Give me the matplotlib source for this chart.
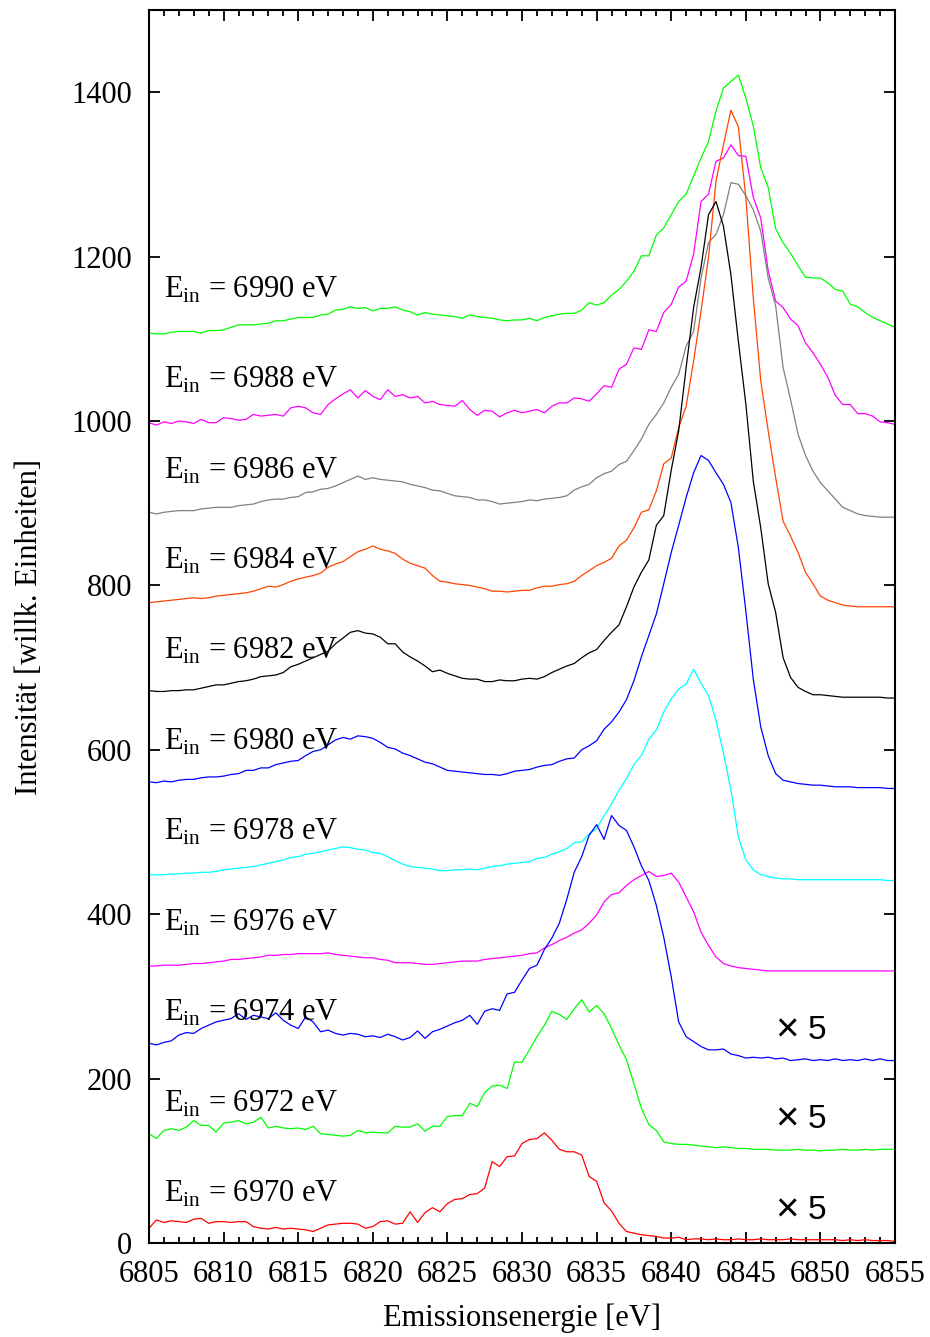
import matplotlib
matplotlib.use('Agg')
import matplotlib.pyplot as plt
import numpy as np
from matplotlib.ticker import MultipleLocator

# Emission energy grid [eV], 0.5 eV steps
energy = np.arange(6805, 6855.5, 0.5)

# Incident energies (top to bottom)
e_in = [6990, 6988, 6986, 6984, 6982, 6980, 6978, 6976, 6974, 6972, 6970]
colors = ['#00ff00', '#ff00ff', '#808080', '#ff4500', '#000000', '#0000ff',
          '#00ffff', '#ff00ff', '#0000ff', '#00ff00', '#ff0000']

# Intensities (arbitrary units, vertical offsets included as plotted)
i_6990 = [1107, 1106, 1106, 1108, 1109, 1109, 1109, 1107, 1110, 1110,
          1111, 1114, 1117, 1117, 1117, 1118, 1119, 1122, 1122, 1124,
          1126, 1126, 1126, 1129, 1130, 1135, 1136, 1139, 1137, 1138,
          1134, 1137, 1137, 1139, 1135, 1133, 1129, 1132, 1130, 1129,
          1128, 1127, 1125, 1129, 1127, 1126, 1125, 1123, 1122, 1123,
          1123, 1125, 1122, 1126, 1128, 1130, 1131, 1131, 1135, 1144,
          1141, 1144, 1153, 1160, 1170, 1182, 1201, 1201, 1226, 1235,
          1251, 1267, 1276, 1298, 1320, 1340, 1377, 1405, 1413, 1421,
          1393, 1359, 1308, 1284, 1234, 1217, 1204, 1189, 1175, 1174,
          1174, 1168, 1160, 1158, 1142, 1139, 1132, 1126, 1122, 1118,
          1114]
i_6988 = [998, 995, 999, 997, 1000, 999, 997, 1002, 998, 998,
          1004, 1003, 1001, 1002, 1008, 1006, 1007, 1008, 1006, 1016,
          1018, 1016, 1010, 1008, 1020, 1027, 1033, 1038, 1028, 1037,
          1030, 1026, 1038, 1030, 1032, 1028, 1030, 1022, 1024, 1020,
          1019, 1018, 1025, 1014, 1007, 1013, 1012, 1005, 1010, 1013,
          1010, 1012, 1014, 1010, 1018, 1022, 1022, 1028, 1027, 1024,
          1033, 1043, 1041, 1063, 1069, 1089, 1087, 1111, 1109, 1132,
          1142, 1163, 1170, 1203, 1267, 1276, 1316, 1320, 1336, 1323,
          1322, 1272, 1247, 1183, 1146, 1138, 1124, 1116, 1095, 1083,
          1069, 1053, 1031, 1020, 1020, 1009, 1009, 1006, 999, 998,
          996]
i_6986 = [889, 887, 889, 890, 891, 891, 891, 893, 894, 895,
          895, 895, 897, 898, 899, 902, 904, 905, 905, 907,
          908, 913, 914, 917, 918, 921, 925, 929, 933, 929,
          931, 929, 928, 927, 926, 923, 921, 919, 916, 915,
          912, 909, 908, 907, 904, 904, 902, 899, 900, 901,
          902, 904, 903, 905, 906, 907, 909, 916, 920, 923,
          931, 936, 939, 947, 951, 964, 978, 996, 1008, 1022,
          1041, 1057, 1091, 1109, 1174, 1217, 1227, 1251, 1290, 1288,
          1274, 1257, 1231, 1174, 1140, 1065, 1026, 984, 958, 939,
          925, 915, 905, 895, 891, 887, 885, 884, 883, 883,
          883]
i_6984 = [779, 780, 781, 782, 783, 784, 785, 784, 785, 787,
          788, 789, 790, 791, 793, 796, 799, 798, 801, 805,
          808, 810, 812, 815, 822, 826, 829, 835, 841, 844,
          848, 844, 842, 839, 832, 827, 824, 821, 812, 805,
          804, 802, 801, 800, 798, 796, 793, 793, 792, 793,
          794, 794, 797, 799, 799, 801, 802, 805, 812, 818,
          824, 828, 833, 848, 855, 870, 889, 892, 915, 948,
          955, 992, 1018, 1073, 1134, 1199, 1292, 1336, 1378, 1358,
          1272, 1150, 1049, 988, 931, 878, 860, 840, 816, 802,
          787, 782, 779, 776, 775, 774, 774, 774, 774, 774,
          774]
i_6982 = [672, 671, 671, 672, 672, 673, 673, 675, 677, 679,
          679, 681, 683, 684, 686, 689, 690, 691, 694, 701,
          704, 708, 712, 716, 720, 729, 736, 743, 745, 742,
          741, 737, 729, 729, 719, 713, 708, 702, 695, 697,
          693, 690, 687, 686, 686, 683, 683, 685, 684, 684,
          686, 687, 686, 689, 694, 698, 702, 705, 712, 718,
          722, 733, 743, 752, 774, 798, 816, 831, 873, 885,
          940, 988, 1065, 1138, 1187, 1251, 1267, 1237, 1178, 1097,
          1021, 927, 870, 802, 767, 712, 688, 676, 671, 667,
          667, 666, 665, 664, 664, 664, 664, 664, 664, 663,
          663]
i_6980 = [561, 560, 562, 561, 563, 564, 564, 566, 567, 567,
          568, 570, 571, 575, 575, 578, 578, 582, 584, 586,
          587, 593, 598, 600, 606, 612, 615, 613, 617, 616,
          614, 609, 603, 601, 596, 593, 589, 585, 583, 579,
          575, 574, 573, 572, 571, 570, 570, 569, 571, 574,
          575, 576, 579, 581, 582, 586, 589, 590, 600, 605,
          611, 625, 634, 646, 661, 684, 713, 739, 765, 802,
          840, 873, 907, 937, 958, 952, 937, 923, 901, 846,
          769, 686, 628, 593, 571, 563, 561, 559, 558, 557,
          557, 556, 555, 555, 555, 554, 554, 554, 554, 553,
          553]
i_6978 = [448, 448, 448, 449, 449, 450, 450, 451, 451, 452,
          454, 455, 456, 457, 458, 460, 462, 464, 466, 469,
          470, 473, 474, 476, 478, 480, 482, 481, 479, 478,
          475, 474, 470, 465, 461, 458, 457, 456, 455, 453,
          453, 454, 454, 455, 454, 456, 458, 459, 461, 462,
          463, 464, 468, 469, 473, 476, 480, 487, 488, 498,
          504, 520, 534, 551, 565, 582, 593, 613, 624, 646,
          662, 674, 680, 698, 681, 666, 636, 596, 551, 494,
          466, 454, 448, 446, 444, 443, 443, 442, 442, 442,
          442, 442, 442, 442, 442, 442, 442, 442, 442, 441,
          441]
i_6976 = [337, 337, 338, 338, 338, 339, 340, 340, 341, 342,
          343, 345, 345, 346, 347, 348, 350, 350, 351, 351,
          352, 352, 352, 352, 353, 351, 350, 349, 348, 347,
          347, 345, 344, 341, 341, 341, 340, 339, 339, 340,
          341, 342, 343, 343, 343, 345, 346, 347, 348, 349,
          350, 352, 353, 359, 363, 368, 372, 377, 381, 389,
          399, 415, 424, 426, 435, 442, 447, 452, 446, 447,
          450, 439, 421, 403, 378, 362, 348, 340, 337, 335,
          334, 333, 332, 331, 331, 331, 331, 331, 331, 331,
          331, 331, 331, 331, 331, 331, 331, 331, 331, 331,
          331]
i_6974 = [243, 241, 244, 246, 253, 256, 255, 261, 265, 269,
          271, 273, 279, 272, 277, 275, 273, 280, 271, 265,
          261, 275, 269, 257, 259, 255, 253, 255, 254, 251,
          252, 250, 254, 251, 247, 250, 258, 249, 257, 260,
          264, 268, 271, 277, 266, 282, 285, 283, 303, 305,
          320, 334, 338, 357, 371, 389, 418, 451, 470, 496,
          509, 491, 520, 508, 502, 482, 459, 441, 411, 372,
          324, 269, 251, 245, 239, 235, 235, 236, 230, 228,
          225, 226, 225, 226, 224, 225, 222, 223, 224, 222,
          223, 222, 224, 222, 223, 222, 224, 222, 224, 222,
          222]
i_6972 = [133, 127, 137, 139, 137, 141, 149, 143, 143, 135,
          146, 147, 149, 145, 147, 153, 140, 142, 140, 139,
          140, 138, 142, 133, 132, 131, 130, 131, 137, 134,
          135, 134, 134, 142, 141, 141, 145, 136, 142, 142,
          154, 155, 155, 170, 166, 183, 191, 192, 188, 220,
          220, 235, 251, 265, 282, 278, 272, 285, 296, 281,
          289, 279, 261, 241, 223, 194, 164, 144, 137, 123,
          121, 120, 120, 119, 118, 117, 116, 117, 116, 115,
          115, 114, 114, 114, 113, 113, 113, 114, 113, 113,
          112, 113, 113, 114, 113, 113, 114, 113, 114, 114,
          114]
i_6970 = [18, 28, 25, 27, 26, 25, 29, 30, 24, 26,
          26, 25, 26, 26, 20, 18, 17, 19, 17, 18,
          17, 16, 14, 18, 22, 23, 24, 24, 23, 18,
          20, 26, 27, 23, 24, 38, 25, 37, 43, 38,
          48, 53, 54, 59, 60, 67, 99, 93, 105, 106,
          121, 126, 127, 134, 125, 114, 111, 111, 107, 81,
          75, 49, 39, 24, 14, 12, 10, 9, 8, 6,
          6, 7, 4, 5, 5, 4, 5, 4, 4, 5,
          4, 4, 5, 4, 4, 4, 5, 4, 4, 4,
          4, 4, 4, 3, 4, 3, 4, 3, 3, 3,
          2]
curves = [i_6990, i_6988, i_6986, i_6984, i_6982, i_6980,
          i_6978, i_6976, i_6974, i_6972, i_6970]

# Label baselines (data units) and the "x 5" markers
label_y = [1150, 1040, 930, 820, 710, 600, 490, 380, 270, 160, 50]
scaled_y = [259, 150, 40]

plt.rcParams['font.family'] = ['Liberation Serif', 'DejaVu Serif']
plt.rcParams['mathtext.fontset'] = 'custom'
plt.rcParams['mathtext.rm'] = 'Liberation Serif'

fig = plt.figure(figsize=(9.3, 13.37), dpi=100)
ax = fig.add_axes([0.1602, 0.0703, 0.8022, 0.9222])

for y, c in zip(curves, colors):
    ax.plot(energy, y, color=c, linewidth=0.9)

for e, ly in zip(e_in, label_y):
    ax.text(6806, ly, r'E$_{\mathrm{in}}$ = %d eV' % e, fontsize=22,
            va='baseline', ha='left')

# "x 5" scale markers: larger multiplication sign, then the digit
for sy in scaled_y:
    ax.text(6847.75, sy, '\u00d7', fontsize=29, family='Liberation Sans',
            va='center', ha='center')
    ax.text(6849.8, sy, '5', fontsize=24, family='Liberation Sans',
            va='center', ha='center')

ax.set_xlim(6805, 6855)
ax.set_ylim(0, 1500)
ax.xaxis.set_major_locator(MultipleLocator(5))
ax.xaxis.set_minor_locator(MultipleLocator(1))
ax.yaxis.set_major_locator(MultipleLocator(200))
ax.tick_params(which='both', direction='in', top=True, right=True,
               labelsize=22, width=1.3)
ax.tick_params(which='major', length=8, pad=12)
ax.tick_params(which='minor', length=4)
for sp in ax.spines.values():
    sp.set_linewidth(1.5)

ax.set_xlabel('Emissionsenergie [eV]', fontsize=22, labelpad=11)
ax.set_ylabel('Intensität [willk. Einheiten]', fontsize=22, labelpad=20)

plt.savefig('out.png', dpi=100)
plt.close()
